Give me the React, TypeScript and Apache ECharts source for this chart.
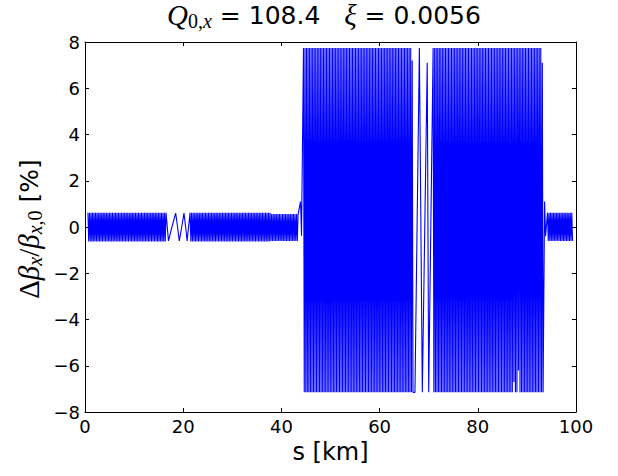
import React, { useEffect, useRef } from "react";
import * as echarts from "echarts";

// ---- axis ticks ----
const xTicks = [0, 20, 40, 60, 80, 100];
const yTicks = [-8, -6, -4, -2, 0, 2, 4, 6, 8];

// ---- regular oscillation blocks (s in km, Δβ/β in %) ----
const blockStartKm = [0.6, 21.4, 37.7, 44.5, 70.9, 94.2];
const blockEndKm = [16.5, 37.7, 43.4, 66.8, 93.3, 99.3];
const blockHigh = [0.62, 0.62, 0.56, 7.74, 7.74, 0.62];
const blockLow = [-0.63, -0.63, -0.6, -7.15, -7.15, -0.6];
const blockCyclesPerKm = [3.2, 3.2, 3.2, 3.2, 3.2, 3.2];

// ---- irregular turning points read directly ----
const slowWiggleKm = [17.0, 17.7, 18.47, 18.85, 19.2, 19.7, 20.16, 20.5, 20.8];
const slowWiggleVal = [-0.6, 0.0, 0.6, 0.0, -0.6, 0.0, 0.6, 0.0, -0.6];
const spikeInKm = [43.9, 44.1];
const spikeInVal = [1.1, -0.38];
const sparseKm = [67.2, 68.1, 68.7, 69.7, 70.0];
const sparseVal = [-7.15, 7.74, -7.15, 7.1, -7.15];
const spikeOutKm = [93.6, 93.8];
const spikeOutVal = [1.1, -0.4];

// ---- individual extremes that differ from their block ----
const notchKm = [66.8, 87.4, 88.3, 93.3];
const notchVal = [7.2, -6.7, -6.2, 7.1];

function buildPoints(): [number, number][] {
  const pts: [number, number][] = [];
  for (let b = 0; b < blockStartKm.length; b++) {
    const a = blockStartKm[b];
    const e = blockEndKm[b];
    const n = Math.max(1, Math.round((e - a) * blockCyclesPerKm[b] * 2));
    for (let i = 0; i <= n; i++) {
      pts.push([a + ((e - a) * i) / n, i % 2 === 0 ? blockHigh[b] : blockLow[b]]);
    }
  }
  const addList = (ks: number[], vs: number[]) => ks.forEach((k, i) => pts.push([k, vs[i]]));
  addList(slowWiggleKm, slowWiggleVal);
  addList(spikeInKm, spikeInVal);
  addList(sparseKm, sparseVal);
  addList(spikeOutKm, spikeOutVal);
  pts.sort((p, q) => p[0] - q[0]);
  notchKm.forEach((k, i) => {
    const v = notchVal[i];
    let best = -1;
    let bd = Infinity;
    pts.forEach((p, j) => {
      if (Math.sign(p[1]) === Math.sign(v)) {
        const d = Math.abs(p[0] - k);
        if (d < bd) {
          bd = d;
          best = j;
        }
      }
    });
    if (best >= 0) pts[best] = [pts[best][0], v];
  });
  return pts;
}

const SANS = "'DejaVu Sans', sans-serif";
const SERIF = "'Liberation Serif', 'DejaVu Serif', serif";

export default function App() {
  const ref = useRef<HTMLDivElement>(null);
  useEffect(() => {
    if (!ref.current) return;
    const chart = echarts.init(ref.current, undefined, { renderer: "svg" });
    const axisLine = { show: true, onZero: false, lineStyle: { color: "#000", width: 1 } };
    const tick = { show: true, inside: true, length: 4, lineStyle: { color: "#000", width: 1 } };
    const label = {
      fontFamily: SANS,
      fontSize: 18,
      color: "#000",
    };
    const richMain = {
      t: { fontFamily: SANS, fontSize: 25, lineHeight: 32, verticalAlign: "middle" as const, color: "#000" },
      mi: { fontFamily: SERIF, fontStyle: "italic" as const, fontSize: 29, lineHeight: 32, verticalAlign: "middle" as const, color: "#000" },
      g: { fontFamily: SERIF, fontSize: 29, lineHeight: 32, verticalAlign: "middle" as const, color: "#000" },
      sub: { fontFamily: SERIF, fontSize: 20, lineHeight: 20, verticalAlign: "bottom" as const, color: "#000" },
      subi: { fontFamily: SERIF, fontStyle: "italic" as const, fontSize: 20, lineHeight: 20, verticalAlign: "bottom" as const, color: "#000" },
    };
    chart.setOption({
      animation: false,
      backgroundColor: "#fff",
      grid: { left: 85, right: 42, top: 42, bottom: 64, containLabel: false },
      xAxis: [
        {
          type: "value",
          min: xTicks[0],
          max: xTicks[xTicks.length - 1],
          interval: xTicks[1] - xTicks[0],
          position: "bottom",
          axisLine,
          axisTick: tick,
          splitLine: { show: false },
          axisLabel: { ...label, margin: 5 },
          name: "s [km]",
          nameLocation: "middle",
          nameGap: 27,
          nameTextStyle: { fontFamily: SANS, fontSize: 24, color: "#000" },
        },
        {
          type: "value",
          min: xTicks[0],
          max: xTicks[xTicks.length - 1],
          interval: xTicks[1] - xTicks[0],
          position: "top",
          axisLine,
          axisTick: tick,
          splitLine: { show: false },
          axisLabel: { show: false },
        },
      ],
      yAxis: [
        {
          type: "value",
          min: yTicks[0],
          max: yTicks[yTicks.length - 1],
          interval: yTicks[1] - yTicks[0],
          position: "left",
          axisLine,
          axisTick: tick,
          splitLine: { show: false },
          axisLabel: {
            ...label,
            margin: 5,
            formatter: (v: number) => String(v).replace("-", "\u2212"),
          },
        },
        {
          type: "value",
          min: yTicks[0],
          max: yTicks[yTicks.length - 1],
          interval: yTicks[1] - yTicks[0],
          position: "right",
          axisLine,
          axisTick: tick,
          splitLine: { show: false },
          axisLabel: { show: false },
        },
      ],
      series: [
        {
          type: "line",
          xAxisIndex: 0,
          yAxisIndex: 0,
          data: buildPoints(),
          showSymbol: false,
          symbol: "none",
          lineStyle: { color: "#0000ff", width: 1.1 },
          clip: true,
          silent: true,
        },
      ],
      graphic: [
        {
          type: "text",
          x: 324,
          y: 15,
          style: {
            text: "{mi|Q}{sub|0,}{subi|x}{t| = 108.4   }{mi|\u03be}{t| = 0.0056}",
            rich: richMain,
            align: "center",
            verticalAlign: "middle",
          },
        },
        {
          type: "text",
          x: 29,
          y: 229,
          rotation: Math.PI / 2,
          style: {
            text: "{g|\u0394}{mi|\u03b2}{subi|x}{g|/}{mi|\u03b2}{subi|x}{sub|,0}{t| [%]}",
            rich: richMain,
            align: "center",
            verticalAlign: "middle",
          },
        },
      ],
    });
    return () => chart.dispose();
  }, []);
  return <div ref={ref} style={{ width: 618, height: 476, position: "absolute", left: 0, top: 0 }} />;
}
